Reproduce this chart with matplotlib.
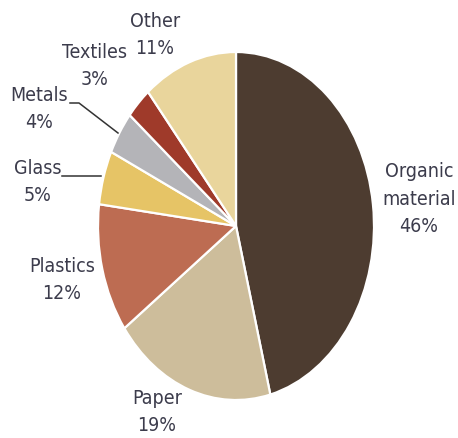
import matplotlib
matplotlib.use("Agg")
import matplotlib.pyplot as plt
from matplotlib import font_manager

categories = ["Organic\nmaterial", "Paper", "Plastics", "Glass", "Metals", "Textiles", "Other"]
shares = [46, 19, 12, 5, 4, 3, 11]
colors = ["#4d3c30", "#cdbd9b", "#bd6c52", "#e6c466", "#b4b4b8", "#9f3a2a", "#e9d59c"]

W, H = 458, 438
fig = plt.figure(figsize=(W / 100, H / 100), dpi=100)

# ellipse box in pixels (centre 236,226; half-axes 138 x 174)
cx, cy, rx, ry = 236, 226, 138, 174
ax = fig.add_axes([(cx - rx) / W, (H - (cy + ry)) / H, 2 * rx / W, 2 * ry / H])
ax.pie(shares, colors=colors, startangle=90, counterclock=False,
       wedgeprops=dict(edgecolor="white", linewidth=1.6))
ax.set_aspect("auto")
ax.set_xlim(-1, 1)
ax.set_ylim(-1, 1)
ax.axis("off")


def to_data(px, py):
    return (px - cx) / rx, (cy - py) / ry


# prefer a condensed face when one is available
condensed = [f.fname for f in font_manager.fontManager.ttflist
             if "condensed" in f.fname.lower() and "dejavusans" in f.fname.lower().replace("-", "")
             and "bold" not in f.fname.lower() and "oblique" not in f.fname.lower()]
if condensed:
    fprop = font_manager.FontProperties(fname=sorted(condensed, key=len)[0], size=14)
else:
    fprop = font_manager.FontProperties(family="DejaVu Sans", size=13)

txt_color = "#3c3c4c"
font = dict(fontproperties=fprop, color=txt_color, ha="center", va="center",
            linespacing=1.55)

label_pos = {
    "Organic\nmaterial": (419, 199),
    "Paper": (157, 412),
    "Plastics": (62, 280),
    "Glass": (38, 182),
    "Metals": (39, 109),
    "Textiles": (95, 66),
    "Other": (155, 35),
}

for name, val in zip(categories, shares):
    px, py = label_pos[name]
    x, y = to_data(px, py)
    ax.text(x, y, f"{name}\n{val}%", clip_on=False, **font)

# leader lines for the small slices
leaders = [
    [(70, 103), (79, 103), (118, 133)],
    [(62, 176), (101, 176)],
]
for pts in leaders:
    xs, ys = zip(*[to_data(*p) for p in pts])
    ax.plot(xs, ys, color="#333333", linewidth=1.1, clip_on=False)

fig.savefig("out.png", dpi=100)
